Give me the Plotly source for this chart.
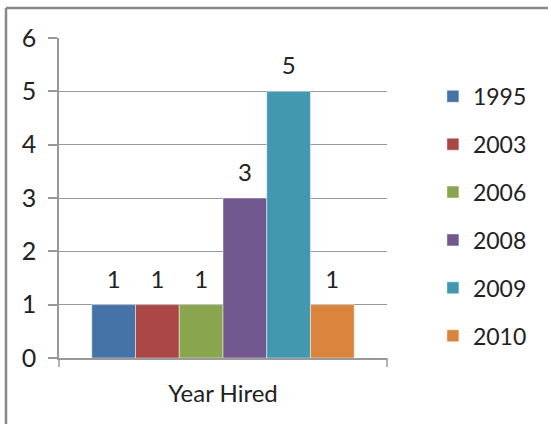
import plotly.graph_objects as go

category = ["Year Hired"]
years = ["1995", "2003", "2006", "2008", "2009", "2010"]
counts = [1, 1, 1, 3, 5, 1]
colors = ["#4572A7", "#AA4643", "#89A54E", "#71588F", "#4198AF", "#DB843D"]

font_family = "Lato, 'Open Sans', sans-serif"

fig = go.Figure()
for yr, n, col in zip(years, counts, colors):
    fig.add_trace(go.Bar(
        x=category,
        y=[n],
        name=yr,
        legendgroup=yr,
        offsetgroup=yr,
        marker=dict(color=col, line=dict(color="rgba(255,255,255,0.6)", width=0.8)),
    ))
# value labels, aligned with the grouped bars
for yr, n in zip(years, counts):
    fig.add_trace(go.Scatter(
        x=category,
        y=[n],
        mode="markers+text",
        offsetgroup=yr,
        marker=dict(size=16, opacity=0),
        text=[str(n)],
        textposition="top center",
        textfont=dict(size=24, color="#222"),
        showlegend=False,
        hoverinfo="skip",
        cliponaxis=False,
    ))

fig.update_layout(
    width=548,
    height=424,
    margin=dict(l=59, r=161, t=38, b=66),
    paper_bgcolor="white",
    plot_bgcolor="white",
    barmode="group",
    scattermode="group",
    bargap=0.2,
    bargroupgap=0,
    font=dict(family=font_family, size=22, color="#222"),
    showlegend=True,
    legend=dict(
        x=1.14, y=0.885, xanchor="left", yanchor="top",
        traceorder="grouped",
        tracegroupgap=15,
        font=dict(size=23, color="#222"),
        itemwidth=30,
    ),
    xaxis=dict(
        showline=True, linecolor="#999", linewidth=1.5,
        ticks="", showticklabels=True,
        tickfont=dict(size=24),
        ticklabelstandoff=13,
        showgrid=False,
        zeroline=False,
        automargin=False,
    ),
    yaxis=dict(
        range=[0, 6], dtick=1,
        showline=True, linecolor="#999", linewidth=1.5,
        ticks="outside", ticklen=9, tickcolor="#999", tickwidth=1.5,
        showgrid=True, gridcolor="#999", gridwidth=1,
        zeroline=False,
        tickfont=dict(size=25),
        ticklabelstandoff=7,
        automargin=False,
    ),
)

# outer chart frame
fig.add_shape(type="line", xref="paper", yref="paper",
              x0=(6 - 59) / 328, x1=(548 - 59) / 328,
              y0=1 + (38 - 8) / 320, y1=1 + (38 - 8) / 320,
              line=dict(color="#888", width=2.5))
fig.add_shape(type="line", xref="paper", yref="paper",
              x0=(6 - 59) / 328, x1=(6 - 59) / 328,
              y0=1 + (38 - 8) / 320, y1=-(424 - 358) / 320,
              line=dict(color="#888", width=2.5))
# end ticks on category axis
for xp in [0, 1]:
    fig.add_shape(type="line", xref="paper", yref="paper",
                  x0=xp, x1=xp, y0=0, y1=-9 / 320,
                  line=dict(color="#999", width=1.5))

fig.write_html("out.html", config={"displayModeBar": False},
               post_script="document.body.style.margin='0';")
